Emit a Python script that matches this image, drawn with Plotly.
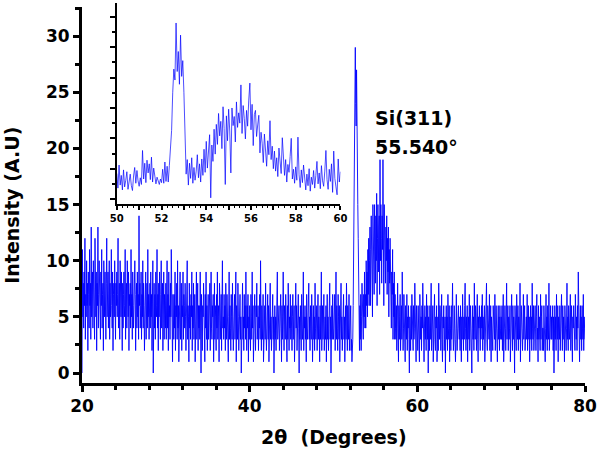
import plotly.graph_objects as go

# ---------------- main scan, 20 - 80 deg, step 0.05 ----------------
two_theta_start = 20.0
two_theta_step = 0.05

counts_20_30 = [0, 11, 5, 8, 4, 9, 6, 12, 3, 7, 5, 10, 6, 8, 2, 9, 7, 4, 11, 6,
                8, 3, 13, 5, 7, 9, 4, 10, 6, 8, 3, 12, 7, 5, 9, 2, 8, 6, 13, 4,
                7, 10, 5, 8, 3, 9, 6, 11, 4, 7, 8, 2, 10, 6, 5, 9, 7, 3, 8, 12,
                5, 7, 9, 4, 6, 10, 3, 8, 5, 7, 11, 6, 4, 9, 2, 7, 8, 5, 10, 6,
                3, 8, 6, 9, 5, 7, 12, 4, 6, 8, 3, 10, 7, 5, 9, 6, 2, 8, 4, 7,
                9, 5, 6, 11, 3, 7, 8, 4, 10, 6, 5, 9, 2, 7, 6, 8, 4, 11, 5, 7,
                3, 9, 6, 4, 8, 5, 10, 7, 2, 6, 8, 4, 9, 5, 7, 3, 14, 6, 8, 4,
                6, 9, 3, 7, 5, 10, 4, 8, 6, 2, 7, 5, 9, 3, 6, 8, 4, 11, 5, 7,
                3, 6, 8, 4, 9, 5, 7, 2, 6, 10, 0, 5, 8, 4, 7, 3, 9, 6, 5, 11,
                4, 7, 2, 8, 5, 9, 6, 3, 7, 10, 4, 6, 8, 2, 5, 9, 3, 7, 6, 4]

counts_30_40 = [8, 3, 6, 10, 4, 7, 2, 9, 5, 6, 3, 8, 5, 11, 4, 6, 1, 7, 5, 3,
                7, 4, 9, 2, 6, 5, 8, 3, 10, 4, 6, 1, 7, 5, 9, 3, 4, 8, 2, 6,
                5, 9, 3, 7, 6, 4, 8, 5, 2, 7, 4, 10, 3, 6, 5, 1, 8, 4, 6, 3,
                7, 5, 9, 2, 6, 4, 8, 3, 5, 7, 1, 6, 4, 9, 3, 5, 8, 2, 6, 4,
                6, 3, 9, 5, 0, 7, 4, 2, 6, 5, 8, 3, 5, 1, 7, 4, 9, 3, 6, 2,
                5, 7, 3, 6, 4, 8, 2, 5, 9, 4, 3, 6, 5, 7, 1, 4, 8, 3, 6, 5,
                2, 7, 4, 9, 3, 5, 6, 1, 8, 4, 5, 3, 7, 2, 6, 10, 4, 5, 3, 7,
                4, 6, 2, 8, 5, 3, 7, 4, 6, 1, 5, 9, 3, 6, 4, 2, 7, 5, 3, 8,
                5, 2, 6, 4, 7, 3, 5, 9, 1, 6, 4, 3, 8, 5, 2, 6, 4, 7, 3, 5,
                0, 6, 4, 8, 3, 5, 2, 7, 4, 6, 3, 9, 5, 2, 6, 4, 7, 1, 5, 3]

counts_40_50 = [6, 4, 2, 7, 5, 3, 9, 4, 6, 1, 5, 3, 7, 4, 2, 6, 5, 8, 3, 4,
                6, 2, 5, 4, 7, 3, 10, 5, 2, 6, 4, 3, 7, 1, 5, 4, 6, 3, 8, 4,
                2, 5, 4, 7, 3, 6, 1, 5, 4, 8, 3, 5, 2, 6, 4, 7, 3, 5, 0, 4,
                6, 3, 5, 2, 7, 4, 9, 3, 5, 4, 6, 2, 5, 3, 7, 4, 1, 6, 3, 5,
                9, 4, 2, 6, 5, 3, 7, 4, 5, 1, 6, 3, 8, 4, 2, 5, 4, 7, 3, 6,
                4, 2, 5, 7, 3, 4, 6, 1, 5, 3, 8, 4, 6, 2, 5, 3, 7, 4, 0, 5,
                3, 6, 4, 2, 7, 5, 3, 4, 9, 2, 5, 4, 6, 3, 5, 1, 7, 4, 3, 6,
                4, 8, 3, 5, 2, 6, 4, 3, 7, 5, 1, 4, 6, 3, 5, 2, 8, 4, 3, 5,
                6, 2, 4, 7, 3, 5, 4, 1, 6, 3, 5, 9, 2, 4, 6, 3, 5, 7, 2, 4,
                5, 3, 6, 1, 4, 7, 3, 5, 2, 6, 4, 8, 3, 5, 0, 4, 6, 3, 7, 4]

counts_50_60 = [3, 6, 4, 7, 2, 5, 9, 3, 6, 4, 2, 7, 5, 3, 6, 1, 5, 4, 8, 3,
                5, 2, 6, 4, 7, 3, 5, 1, 4, 6, 3, 8, 5, 2, 6, 4, 3, 7, 2, 5,
                4, 6, 2, 3,
                1, 2, 3, 6, 10, 14, 21, 18, 29, 24, 22, 27, 19, 23, 15, 12, 9, 4, 2,
                6, 3, 7, 2, 5, 8, 4, 6, 3, 7, 5, 9, 4,
                7, 4, 10, 6, 9, 5, 11, 7, 12, 6,
                10, 13, 6, 11, 14, 8, 12, 5, 15, 10,
                13, 7, 15, 12, 8, 14, 10, 16, 6, 12,
                15, 9, 13, 14, 7, 19, 10, 15, 12, 8,
                14, 11, 19, 13, 6, 15, 12, 14, 8, 13,
                10, 14, 7, 12, 9, 13, 5, 11, 8, 12,
                6, 10, 4, 9, 7, 11, 3, 8, 5, 9,
                3, 7, 4,
                3, 6, 2, 5, 8, 4, 1, 6, 3, 5, 7, 2, 4, 6, 3, 9, 5, 2, 4, 7,
                3, 5, 1, 6, 4, 3, 7, 2, 5, 4, 6, 3, 0, 5, 4, 2, 6, 3, 7, 4,
                5, 2, 6, 3, 4, 8, 3, 5, 1, 6, 4]

counts_60_70 = [4, 2, 6, 3, 5, 1, 7, 4, 3, 5, 2, 6, 4, 8, 3, 5, 1, 4, 6, 3,
                5, 2, 7, 4, 3, 6, 0, 5, 4, 2, 6, 3, 5, 8, 2, 4, 3, 6, 1, 5,
                4, 7, 3, 2, 5, 4, 6, 1, 3, 5, 2, 8, 4, 3, 6, 5, 2, 4, 7, 3,
                1, 5, 4, 6, 2, 3, 5, 0, 4, 6, 3, 5, 2, 7, 4, 3, 6, 1, 5, 4,
                2, 6, 3, 5, 8, 4, 2, 3, 6, 4, 5, 1, 3, 7, 4, 2, 5, 3, 6, 4,
                3, 5, 2, 6, 4, 1, 5, 3, 7, 4, 2, 5, 3, 6, 8, 4, 2, 5, 3, 6,
                1, 4, 5, 3, 7, 2, 4, 6, 3, 5, 0, 4, 6, 3, 5, 2, 8, 4, 3, 6,
                5, 2, 4, 7, 3, 1, 5, 4, 6, 3, 2, 5, 3, 6, 4, 7, 2, 5, 3, 4,
                6, 1, 4, 3, 5, 8, 3, 2, 6, 4, 5, 3, 7, 2, 4, 6, 1, 5, 3, 4,
                2, 6, 4, 5, 3, 7, 2, 4, 6, 3, 5, 1, 4, 6, 3, 5, 2, 6, 4, 3]

counts_70_80 = [5, 3, 6, 2, 4, 7, 1, 5, 3, 6, 4, 2, 5, 8, 3, 4, 6, 2, 5, 3,
                4, 6, 1, 5, 3, 7, 4, 2, 6, 3, 5, 4, 0, 6, 3, 5, 2, 7, 4, 3,
                6, 2, 5, 4, 3, 8, 1, 4, 6, 3, 5, 2, 4, 7, 3, 5, 6, 2, 4, 3,
                5, 3, 7, 2, 4, 6, 3, 5, 1, 4, 6, 3, 5, 2, 8, 4, 3, 6, 2, 5,
                3, 6, 4, 2, 5, 7, 3, 4, 1, 6, 3, 5, 4, 2, 7, 3, 5, 6, 2, 4,
                4, 2, 6, 3, 5, 1, 4, 7, 3, 5, 2, 6, 4, 3, 8, 2, 5, 4, 6, 3,
                5, 3, 4, 6, 2, 5, 0, 4, 6, 3, 5, 2, 7, 4, 3, 6, 1, 5, 4, 3,
                6, 2, 5, 3, 7, 4, 2, 6, 3, 5, 4, 1, 6, 3, 5, 2, 4, 8, 3, 5,
                2, 6, 4, 3, 5, 7, 2, 4, 6, 3, 1, 5, 4, 6, 3, 5, 2, 7, 4, 3,
                5, 2, 6, 4, 9, 3, 5, 1, 4, 6, 3, 5, 2, 6, 4, 3, 7, 2, 5, 4,
                3]

# ---------------- inset scan, 50 - 60 deg, step 0.05 ----------------
inset_start = 50.0
inset_step = 0.05

inset_counts = [4.2, 1.8, 5.6, 2.3, 3.9, 1.5, 4.8, 2.0, 3.1, 4.5,
                1.6, 3.4, 4.1, 2.2, 1.4, 3.8, 5.2, 2.6, 4.7, 3.0,
                2.1, 3.5, 2.4, 8.0, 3.3, 5.9, 2.7, 6.4, 4.3, 5.8,
                3.2, 6.9, 2.8, 5.1, 4.0, 2.5, 3.6, 2.9, 2.4, 3.3,
                2.7, 4.9, 2.6, 6.1, 2.9, 5.4, 2.8, 5.5, 8.4, 11.3,
                17.5, 21.4, 19.6, 29.0, 21.0, 24.3, 18.9, 27.0, 20.2, 22.8,
                17.6, 9.8, 4.1, 6.5, 2.3, 5.9, 3.4, 6.8, 2.6, 5.2,
                3.1, 4.6, 7.3, 3.5, 5.8, 2.8, 6.6, 3.9, 8.2, 4.4,
                9.5, 5.1, 7.8, 10.6, 0.2, 8.9, 6.2, 11.5, 7.4, 12.3,
                9.0, 14.1, 10.4, 12.8, 8.3, 15.2, 11.6, 2.4, 13.7, 9.6,
                14.8, 11.2, 4.3, 15.0, 12.1, 13.6, 9.4, 16.0, 11.8, 14.2,
                12.5, 18.8, 10.8, 15.4, 13.3, 9.9, 14.6, 12.0, 16.3, 19.1,
                11.4, 15.6, 8.8, 13.9, 14.6, 10.3, 12.2, 13.8, 7.6, 11.0,
                9.2, 6.0, 10.7, 8.1, 5.4, 9.6, 7.3, 12.9, 6.5, 8.7,
                5.0, 7.9, 4.6, 6.8, 3.7, 8.4, 5.5, 4.2, 10.1, 5.8,
                3.9, 6.5, 2.8, 5.7, 4.4, 7.0, 10.0, 3.3, 4.9, 2.6,
                5.3, 3.1, 10.2, 4.0, 1.9, 4.8, 2.7, 5.6, 3.4, 1.5,
                4.1, 2.2, 5.0, 1.3, 3.6, 2.4, 4.7, 1.8, 3.9, 6.2,
                2.5, 4.3, 1.7, 5.5, 3.0, 2.1, 4.6, 8.0, 3.2, 1.6,
                4.9, 2.9, 5.8, 1.1, 7.9, 3.4, 2.0, 0.7, 6.6, 2.8,
                4.5]

counts = counts_20_30 + counts_30_40 + counts_40_50 + counts_50_60 + counts_60_70 + counts_70_80
two_theta = [round(two_theta_start + i * two_theta_step, 2) for i in range(len(counts))]
inset_theta = [round(inset_start + i * inset_step, 3) for i in range(len(inset_counts))]

FONT = "DejaVu Sans"
BLUE = "#0000ff"

fig = go.Figure()
fig.add_trace(go.Scatter(x=two_theta, y=counts, mode="lines",
                         line=dict(color=BLUE, width=0.9), xaxis="x", yaxis="y"))
fig.add_trace(go.Scatter(x=inset_theta, y=inset_counts, mode="lines",
                         line=dict(color=BLUE, width=0.7), xaxis="x2", yaxis="y2"))

axis_common = dict(showline=True, linecolor="black", showgrid=False, zeroline=False,
                   ticks="outside", tickcolor="black")

fig.update_layout(
    width=600, height=458,
    margin=dict(l=82, r=12, t=3, b=75),
    paper_bgcolor="white", plot_bgcolor="rgba(0,0,0,0)",
    showlegend=False,
    xaxis=dict(axis_common, domain=[0, 1], range=[20, 80], linewidth=3,
               tick0=20, dtick=20, ticklen=6, tickwidth=3,
               minor=dict(dtick=4, ticklen=4, tickwidth=3, ticks="outside", tickcolor="black"),
               tickfont=dict(family=FONT, size=17, color="black", weight="bold"),
               anchor="y"),
    yaxis=dict(axis_common, domain=[0, 0.9895], range=[-0.89, 32.6], linewidth=3,
               tick0=0, dtick=5, ticklen=6, tickwidth=3,
               minor=dict(dtick=2.5, ticklen=4, tickwidth=3, ticks="outside", tickcolor="black"),
               tickfont=dict(family=FONT, size=17, color="black", weight="bold"),
               anchor="x"),
    xaxis2=dict(axis_common, domain=[0.0692, 0.5138], range=[50, 60], linewidth=2,
                tickvals=[50, 51, 52, 53, 54, 55, 56, 57, 58, 59, 60],
                ticktext=["50", "", "52", "", "54", "", "56", "", "58", "", "60"],
                ticklen=4, tickwidth=2,
                minor=dict(dtick=0.25, ticklen=2, tickwidth=1, ticks="outside", tickcolor="black"),
                tickfont=dict(family=FONT, size=10, color="black", weight="bold"),
                anchor="y2"),
    yaxis2=dict(axis_common, domain=[0.471, 1.0], range=[-0.82, 32.29], linewidth=2,
                tick0=0, dtick=5, ticklen=5, tickwidth=2, showticklabels=False,
                minor=dict(dtick=2.5, ticklen=3, tickwidth=2, ticks="outside", tickcolor="black"),
                anchor="x2"),
)

fig.add_annotation(text="2θ  (Degrees)", xref="paper", yref="paper", x=0.5, y=-0.142,
                   showarrow=False, xanchor="center", yanchor="middle",
                   font=dict(family=FONT, size=19, color="black", weight="bold"))
fig.add_annotation(text="Intensity (A.U)", xref="paper", yref="paper", x=-0.138, y=0.468,
                   textangle=-90, showarrow=False, xanchor="center", yanchor="middle",
                   font=dict(family=FONT, size=19, color="black", weight="bold"))
fig.add_annotation(text="Si(311)", xref="paper", yref="paper", x=0.579, y=(383 - 117.5) / 380,
                   showarrow=False, xanchor="left", yanchor="middle",
                   font=dict(family=FONT, size=19, color="black", weight="bold"))
fig.add_annotation(text="55.540°", xref="paper", yref="paper", x=0.579, y=(383 - 147) / 380,
                   showarrow=False, xanchor="left", yanchor="middle",
                   font=dict(family=FONT, size=19, color="black", weight="bold"))

# page body has an 8px default margin; drop it so the chart sits at the page corner
fig.write_html("out.html", config={"displayModeBar": False},
               post_script="document.body.style.margin = '0px';")
